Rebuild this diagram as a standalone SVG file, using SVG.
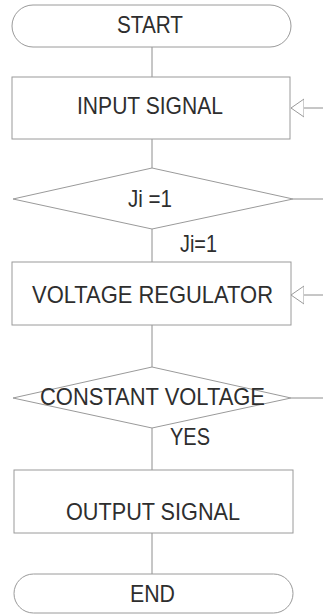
<svg xmlns="http://www.w3.org/2000/svg" width="323" height="614" viewBox="0 0 323 614">
  <style>
    .shape { fill: #ffffff; stroke: #9a9a9a; stroke-width: 1; }
    .line { fill: none; stroke: #8e8e8e; stroke-width: 1; }
    .label { font-family: "Liberation Sans", Arial, sans-serif; font-size: 24.5px; fill: #2e2e2e; text-anchor: middle; }
  </style>
  <defs>
    <marker id="openArrow" viewBox="0 0 13 20" refX="13" refY="10" markerWidth="13" markerHeight="20" orient="auto" markerUnits="userSpaceOnUse">
      <path d="M0,1 L13,10 L0,19 Z" fill="#ffffff" stroke="#9a9a9a" stroke-width="1"/>
    </marker>
  </defs>
  <rect width="323" height="614" fill="#ffffff"/>

  <g id="connectors">
    <line class="line" x1="152" y1="47" x2="152" y2="77"/>
    <line class="line" x1="152" y1="139" x2="152" y2="168"/>
    <line class="line" x1="152" y1="229" x2="152" y2="262"/>
    <line class="line" x1="152" y1="325" x2="152" y2="367"/>
    <line class="line" x1="152" y1="428" x2="152" y2="470"/>
    <line class="line" x1="152" y1="533" x2="152" y2="574"/>
    <path class="line" d="M323,108 L291,108" marker-end="url(#openArrow)"/>
    <line class="line" x1="293" y1="199" x2="323" y2="199"/>
    <path class="line" d="M323,295 L291,295" marker-end="url(#openArrow)"/>
    <line class="line" x1="291" y1="398" x2="323" y2="398"/>
    <text class="label" x="198.5" y="252" textLength="37" lengthAdjust="spacingAndGlyphs">Ji=1</text>
    <text class="label" x="190" y="445" textLength="40" lengthAdjust="spacingAndGlyphs">YES</text>
  </g>

  <g id="start">
    <rect class="shape" x="12" y="5" width="279" height="42" rx="21" ry="21"/>
    <text class="label" x="150" y="33" textLength="66" lengthAdjust="spacingAndGlyphs">START</text>
  </g>

  <g id="input-signal">
    <rect class="shape" x="12" y="77" width="278" height="62"/>
    <text class="label" x="150" y="114" textLength="146" lengthAdjust="spacingAndGlyphs">INPUT SIGNAL</text>
  </g>

  <g id="decision-ji">
    <polygon class="shape" points="13,199 152,168 293,199 152,229"/>
    <text class="label" x="150" y="207" textLength="44" lengthAdjust="spacingAndGlyphs">Ji =1</text>
  </g>

  <g id="voltage-regulator">
    <rect class="shape" x="12" y="262" width="279" height="63"/>
    <text class="label" x="152.5" y="303" textLength="241" lengthAdjust="spacingAndGlyphs">VOLTAGE REGULATOR</text>
  </g>

  <g id="decision-constant">
    <polygon class="shape" points="13,398 152,367 291,398 152,428"/>
    <text class="label" x="152.5" y="405" textLength="225" lengthAdjust="spacingAndGlyphs">CONSTANT VOLTAGE</text>
  </g>

  <g id="output-signal">
    <rect class="shape" x="14" y="470" width="279" height="63"/>
    <text class="label" x="153" y="520" textLength="174" lengthAdjust="spacingAndGlyphs">OUTPUT SIGNAL</text>
  </g>

  <g id="end">
    <rect class="shape" x="14" y="574" width="279" height="39" rx="19.5" ry="19.5"/>
    <text class="label" x="152.5" y="602" textLength="45" lengthAdjust="spacingAndGlyphs">END</text>
  </g>
</svg>
